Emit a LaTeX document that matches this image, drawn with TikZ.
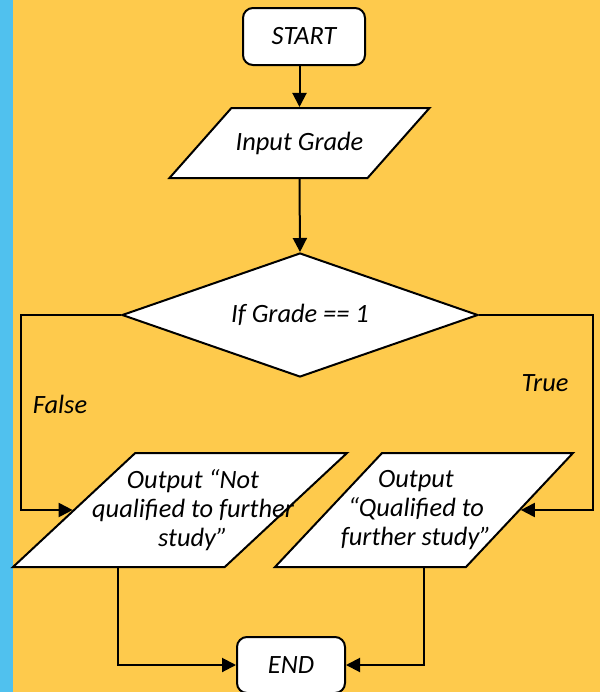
\documentclass[tikz,border=0pt]{standalone}
\usepackage{fontspec}
\setmainfont{Carlito}
\usepackage{tikz}
\usetikzlibrary{positioning, shapes.geometric, arrows.meta}
\definecolor{pageColor}{RGB}{254,202,76}
\definecolor{stripColor}{RGB}{80,193,238}
\tikzstyle{chart} = [x = .5pt, y = -.5pt, every node/.style={font=\itshape\fontsize{13.2}{14.5}\selectfont}]
\tikzstyle{terminalStyle} = [draw, fill=white, line width=1pt, rounded corners = 5pt, inner sep = 0pt, minimum width = 61pt, minimum height = 28.5pt]
\tikzstyle{ioStyle} = [draw, fill=white, line width=1pt, shape=trapezium, trapezium stretches body, inner xsep = 0pt]
\tikzstyle{decisionStyle} = [draw, fill=white, line width=1pt, shape=diamond, aspect=2.87, inner sep = 0pt, minimum width = 178pt, minimum height = 62pt]
\tikzstyle{flowLine} = [line width=1pt, -{Triangle[length=7pt, width=7pt]}]
\tikzstyle{boxText} = [align=center]
% left angle, right angle, full width, half height
\tikzset{slanted/.style n args={4}{trapezium left angle=#1, trapezium right angle=#2, minimum width=#3, inner ysep=#4}}

\begin{document}
\begin{tikzpicture}[chart]
  % page and side strip
  \fill [pageColor] (0,0) rectangle (600,692);
  \fill [stripColor] (0,0) rectangle (13,692);
  \useasboundingbox (0,0) rectangle (600,692);
  % boxes
  \node [terminalStyle] (start) at (304,36.5) {START};
  \node [ioStyle, slanted={48.5}{131.5}{130pt}{17.5pt}] (inp) at (299.5,143) {};
  \node [boxText] (inpText) at (inp) {Input Grade};
  \node [decisionStyle] (cond) at (300,315) {If Grade == 1};
  \node [ioStyle, slanted={43}{137}{167pt}{28.5pt}] (outNo) at (180,510) {};
  \node [boxText] (outNoText) at ([xshift=6.5pt]outNo.center) {Output “Not\\qualified to further\\study”};
  \node [ioStyle, slanted={46.8}{133.2}{149pt}{28.5pt}] (outYes) at (424,510) {};
  \node [boxText] (outYesText) at ([xshift=-4pt]outYes.center) {Output\\“Qualified to\\further study”};
  \node [terminalStyle, minimum width=54pt, minimum height=28pt] (finish) at (291,665) {END};
  % branch labels
  \node (falseText) at (60,404) {False};
  \node (trueText) at (545,383) {True};
  % connectors
  \draw [flowLine] (start.south -| inp.north) -- (inp.north);
  \draw [flowLine] (inp.south) -- (cond.north);
  \draw [flowLine] (cond.west) -- ++(-100,0) |- (outNo.left side);
  \draw [flowLine] (cond.east) -- ++(114,0) |- (outYes.right side);
  \draw [flowLine] (outNo.bottom side) |- (finish.west);
  \draw [flowLine] (outYes.south) |- (finish.east);
\end{tikzpicture}
\end{document}
